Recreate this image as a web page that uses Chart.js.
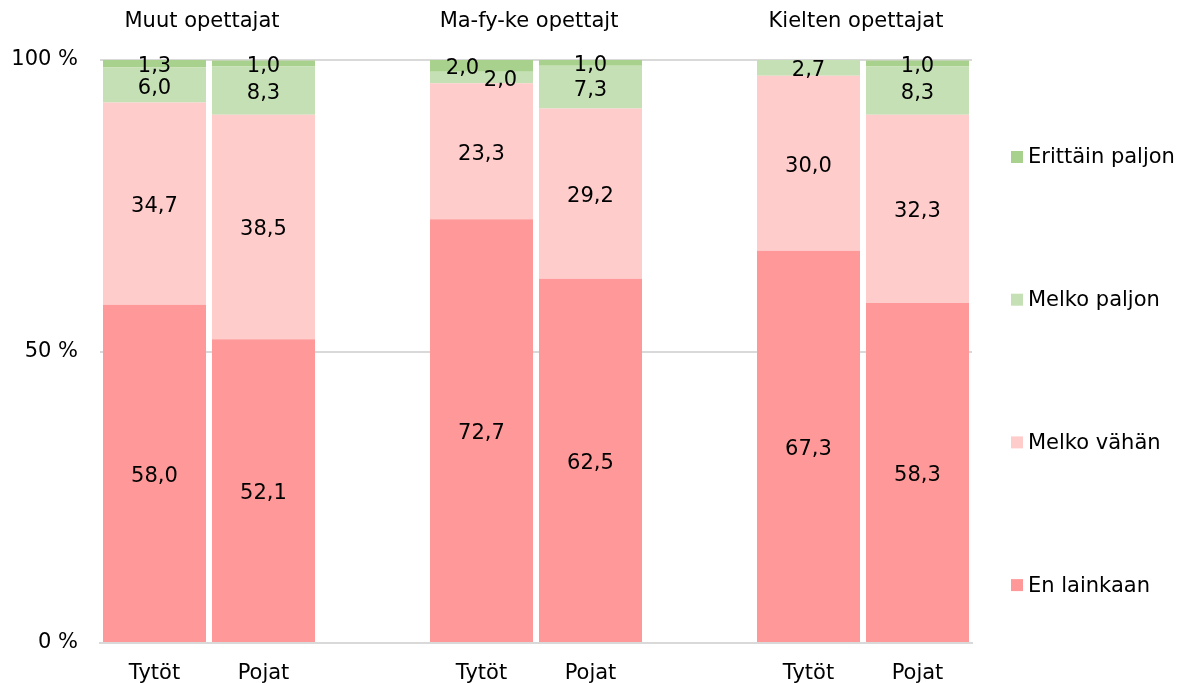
<!DOCTYPE html>
<html>
<head>
<meta charset="utf-8">
<script src="https://cdn.jsdelivr.net/npm/chart.js@4/dist/chart.umd.min.js"></script>
<style>
  body { margin: 0; background: #fff; }
  #wrap { width: 1187px; height: 683px; }
</style>
</head>
<body>
<div id="wrap"><canvas id="myChart"></canvas></div>
<script>
// categories (empty ones are the gaps between the groups)
var labels = ["Tytöt", "Pojat", "", "Tytöt", "Pojat", "", "Tytöt", "Pojat"];
var groups = ["Muut opettajat", "Ma-fy-ke opettajt", "Kielten opettajat"];

// series values, percent
var enLainkaan     = [58.0, 52.1, null, 72.7, 62.5, null, 67.3, 58.3];
var melkoVahan     = [34.7, 38.5, null, 23.3, 29.2, null, 30.0, 32.3];
var melkoPaljon    = [ 6.0,  8.3, null,  2.0,  7.3, null,  2.7,  8.3];
var erittainPaljon = [ 1.3,  1.0, null,  2.0,  1.0, null,  0,    1.0];

var yTicks = [0, 50, 100];

var FONT = "DejaVu Sans";
var FSIZE = 21;

function fmt(v){
	return v.toFixed(1).replace(".", ",");
}

// labels that sit on top of each other get pushed sideways a bit
var labelShift = { "3-3": -19, "2-3": 19 };

var valueLabels = {
	id: "valueLabels",
	afterDatasetsDraw: function(chart){
		var ctx = chart.ctx;
		ctx.save();
		ctx.font = FSIZE + "px '" + FONT + "'";
		ctx.fillStyle = "#000";
		ctx.textAlign = "center";
		ctx.textBaseline = "middle";
		chart.data.datasets.forEach(function(ds, di){
			var meta = chart.getDatasetMeta(di);
			meta.data.forEach(function(bar, i){
				var v = ds.data[i];
				if(v == null || v == 0){ return; }
				var dx = labelShift[di + "-" + i] || 0;
				ctx.fillText(fmt(v), bar.x + dx, (bar.y + bar.base) / 2 + 3);
			});
		});
		ctx.restore();
	}
};

var groupTitles = {
	id: "groupTitles",
	afterDraw: function(chart){
		var ctx = chart.ctx;
		var x = chart.scales.x;
		ctx.save();
		ctx.font = FSIZE + "px '" + FONT + "'";
		ctx.fillStyle = "#000";
		ctx.textAlign = "center";
		ctx.textBaseline = "middle";
		groups.forEach(function(g, k){
			var cx = (x.getPixelForValue(k * 3) + x.getPixelForValue(k * 3 + 1)) / 2;
			ctx.fillText(g, cx - 7, 22);
		});
		ctx.restore();
	}
};

var sideLegend = {
	id: "sideLegend",
	afterDraw: function(chart){
		var ctx = chart.ctx;
		var area = chart.chartArea;
		var ds = chart.data.datasets.slice().reverse();
		ctx.save();
		ctx.font = FSIZE + "px '" + FONT + "'";
		ctx.textAlign = "left";
		ctx.textBaseline = "middle";
		ds.forEach(function(d, k){
			var y = area.top + 97 + k * 142.7;
			ctx.fillStyle = d.backgroundColor;
			ctx.fillRect(1011, y - 6, 12, 12);
			ctx.fillStyle = "#000";
			ctx.fillText(d.label, 1028, y + 1);
		});
		ctx.restore();
	}
};

var data = {
	labels: labels,
	datasets: [
		{ label: "En lainkaan",     data: enLainkaan,     backgroundColor: "#FF9999" },
		{ label: "Melko vähän",     data: melkoVahan,     backgroundColor: "#FFCCCC" },
		{ label: "Melko paljon",    data: melkoPaljon,    backgroundColor: "#C5E0B4" },
		{ label: "Erittäin paljon", data: erittainPaljon, backgroundColor: "#A9D18E" }
	]
};

var config = {
	type: "bar",
	data: data,
	options: {
		responsive: true,
		maintainAspectRatio: false,
		animation: false,
		devicePixelRatio: 1,
		datasets: {
			bar: { categoryPercentage: 1.0, barPercentage: 0.945, borderWidth: 0 }
		},
		layout: { padding: { top: 60, right: 215, left: 0, bottom: 0 } },
		plugins: {
			legend: { display: false },
			tooltip: { enabled: false }
		},
		scales: {
			x: {
				stacked: true,
				grid: { display: false },
				border: { color: "#D9D9D9", width: 2 },
				ticks: { color: "#000", font: { family: FONT, size: FSIZE }, padding: 10, maxRotation: 0, autoSkip: false },
				afterFit: function(s){ s.height = 40; }
			},
			y: {
				stacked: true,
				min: 0,
				max: 100,
				afterBuildTicks: function(s){ s.ticks = yTicks.map(function(v){ return { value: v }; }); },
				grid: { color: "#D9D9D9", lineWidth: 2, drawTicks: false },
				border: { display: false },
				ticks: {
					color: "#000",
					font: { family: FONT, size: FSIZE },
					padding: 22,
					callback: function(v){ return v + " %"; }
				},
				afterFit: function(s){ s.width = 100; }
			}
		}
	},
	plugins: [valueLabels, groupTitles, sideLegend]
};

document.addEventListener("DOMContentLoaded", function(){
	new Chart(document.getElementById("myChart"), config);
});
</script>
</body>
</html>
